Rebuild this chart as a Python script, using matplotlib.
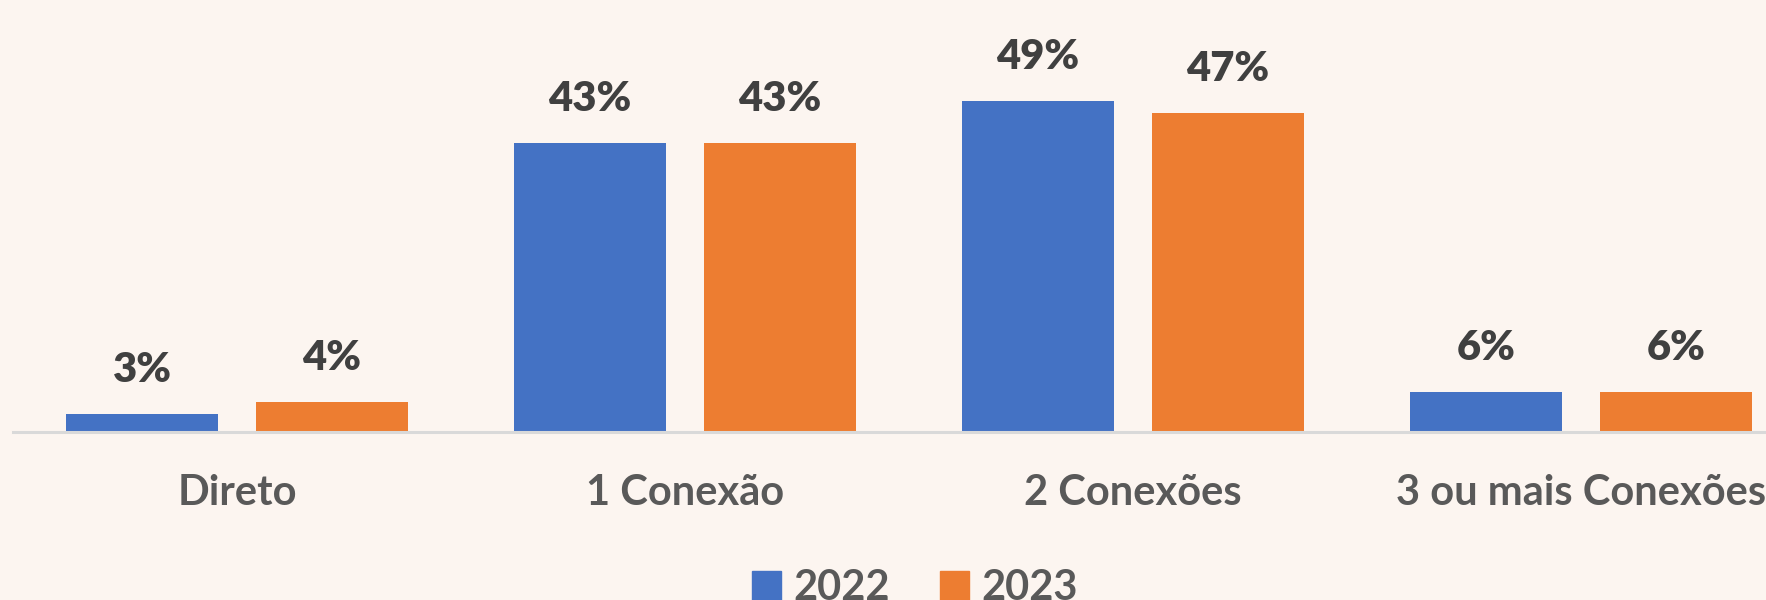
import matplotlib.pyplot as plt
from matplotlib.patches import Patch
import numpy as np

categorias = ["Direto", "1 Conexão", "2 Conexões", "3 ou mais Conexões"]
anos = ["2022", "2023"]
valores_2022 = [2.7, 42.7, 49.0, 5.9]
valores_2023 = [4.5, 42.7, 47.2, 5.9]

cor_fundo = "#FCF5F0"
cores = ["#4472C4", "#ED7D31"]

plt.rcParams['font.family'] = ['Lato', 'DejaVu Sans']

fig = plt.figure(figsize=(17.66, 6), dpi=100, facecolor=cor_fundo)
W, H = 1766, 600
# eixo um pouco maior que a figura (a ultima categoria fica cortada)
ax = fig.add_axes([13 / W, 168 / H, 1792 / W, 432 / H])
ax.set_facecolor(cor_fundo)

x = np.arange(len(categorias))
largura = 0.339
desl = 0.212

barras1 = ax.bar(x - desl, valores_2022, largura, color=cores[0], label=anos[0])
barras2 = ax.bar(x + desl, valores_2023, largura, color=cores[1], label=anos[1])

for barras in (barras1, barras2):
    for b in barras:
        ax.annotate(f"{b.get_height():.0f}%", (b.get_x() + b.get_width() / 2, b.get_height()),
                    xytext=(0, 23), textcoords="offset points", ha="center", va="baseline",
                    fontsize=30, fontweight="heavy", color="#404040")

ax.set_xlim(-0.5, 3.5)
ax.set_ylim(0, 63.9)
ax.set_yticks([])
ax.set_xticks(x)
ax.set_xticklabels(categorias, fontsize=30, fontweight="bold", color="#595959")
ax.tick_params(axis="x", length=0, pad=30)
for s in ["top", "right", "left"]:
    ax.spines[s].set_visible(False)
ax.spines["bottom"].set_color("#D9D9D9")
ax.spines["bottom"].set_linewidth(2.2)

handles = [Patch(color=cores[0], label=anos[0]), Patch(color=cores[1], label=anos[1])]
fig.legend(handles=handles, loc="upper center", bbox_to_anchor=(915 / W, 1 - 532 / H),
           ncol=2, frameon=False, handlelength=0.7, handleheight=0.7,
           handletextpad=0.3, columnspacing=1.2,
           prop={"weight": "bold", "size": 30})
for t in fig.legends[0].get_texts():
    t.set_color("#595959")

fig.savefig("out.png", dpi=100, facecolor=cor_fundo)
